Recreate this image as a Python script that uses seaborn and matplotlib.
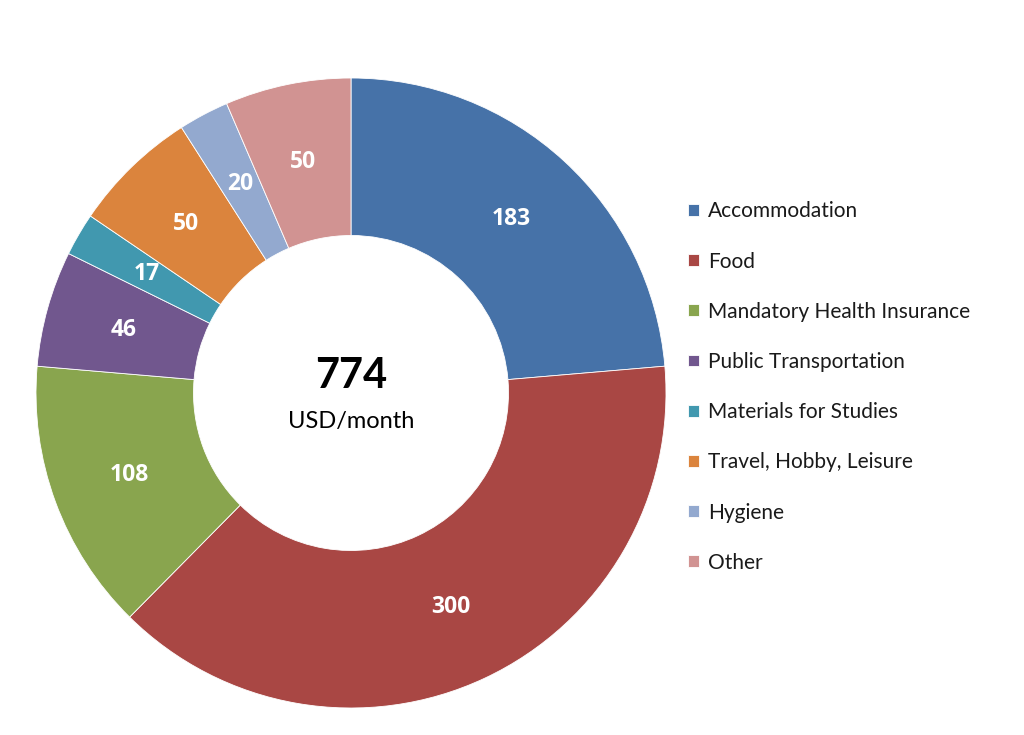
import matplotlib
matplotlib.use("Agg")
import matplotlib.pyplot as plt
import seaborn as sns

categories = ["Accommodation", "Food", "Mandatory Health Insurance", "Public Transportation",
              "Materials for Studies", "Travel, Hobby, Leisure", "Hygiene", "Other"]
costs = [183, 300, 108, 46, 17, 50, 20, 50]
colors = ["#4672A8", "#A94744", "#89A54E", "#71578E", "#4198AF", "#DB843D", "#93A9CF", "#D19392"]
total_label = "774"
unit_label = "USD/month"

sns.set_theme(style="white")
plt.rcParams["font.family"] = ["Lato", "DejaVu Sans"]
palette = sns.color_palette(colors)

fig = plt.figure(figsize=(10.24, 7.35), dpi=100)
ax = fig.add_axes([36 / 1024, 27 / 735, 630 / 1024, 630 / 735])

wedges, texts = ax.pie(costs, colors=palette, startangle=90, counterclock=False,
                       radius=1.0, wedgeprops=dict(width=0.5, edgecolor="white", linewidth=0.6),
                       labels=[str(c) for c in costs], labeldistance=0.75)
for t in texts:
    t.set_color("white")
    t.set_fontsize(16.5)
    t.set_fontweight("bold")
    t.set_family(["Open Sans", "DejaVu Sans"])
    t.set_ha("center")
    t.set_va("center")
ax.set_xlim(-1, 1)
ax.set_ylim(-1, 1)
ax.set_aspect("equal")

ax.text(0, 0.055, total_label, ha="center", va="center", fontsize=30, fontweight="bold", color="black")
ax.text(0, -0.09, unit_label, ha="center", va="center", fontsize=17, color="black")

leg = fig.legend(wedges, categories, loc="upper left", bbox_to_anchor=(680 / 1024, 1 - 193 / 735),
                 frameon=False, fontsize=15, handlelength=0.5, handleheight=0.5,
                 handletextpad=0.45, labelspacing=1.45, borderaxespad=0)
for t in leg.get_texts():
    t.set_color("#1a1a1a")

fig.savefig("out.png", dpi=100, facecolor="white")
